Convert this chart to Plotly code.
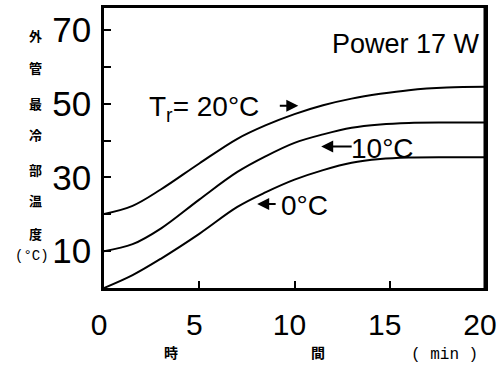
import plotly.graph_objects as go

# data (time in min, temperature in °C)
time_min = [0, 1.5, 3, 5, 7, 8.5, 10, 11.5, 13, 14.5, 16, 18, 20]
temp_tr20 = [20.1, 22.3, 26.8, 33.8, 40.5, 44.2, 47.2, 49.6, 51.4, 52.7, 53.7, 54.4, 54.6]
temp_tr10 = [10.0, 11.9, 16.2, 24.0, 31.5, 35.8, 39.4, 41.7, 43.5, 44.4, 44.8, 44.9, 44.9]
temp_tr0 = [0.0, 3.5, 8.0, 14.7, 22.0, 26.0, 29.4, 32.0, 34.0, 35.0, 35.4, 35.5, 35.5]
series = [temp_tr20, temp_tr10, temp_tr0]

x_ticks = [0, 5, 10, 15, 20]
y_ticks = [10, 30, 50, 70]
y_minor = [20, 40, 60]
y_title_chars = ["外", "管", "最", "冷", "部", "温", "度"]
x_title_chars = ["時", "間"]

SANS = "Liberation Sans, Arial, sans-serif"
CJK = "Noto Sans CJK JP"
MONO = "Liberation Mono, monospace"

fig = go.Figure()
for s in series:
    fig.add_trace(go.Scatter(x=time_min, y=s, mode="lines",
                             line=dict(color="black", width=2, shape="spline", smoothing=1.0),
                             showlegend=False, hoverinfo="skip"))

fig.update_layout(
    width=502, height=369,
    margin=dict(l=104, r=10, t=5, b=81),
    paper_bgcolor="white", plot_bgcolor="white",
    xaxis=dict(range=[0, 20], tickvals=x_ticks, ticktext=[str(v) for v in x_ticks],
               showgrid=False, zeroline=False, showline=True, mirror=True,
               linecolor="black", linewidth=2.5, ticks="inside", ticklen=7,
               tickwidth=2, tickcolor="black", ticklabelstandoff=8,
               ticklabelshift=-5, ticklabeloverflow="allow",
               tickfont=dict(family=SANS, size=30, color="black")),
    yaxis=dict(range=[0, 76], tickvals=y_ticks, ticktext=[str(v) for v in y_ticks],
               showgrid=False, zeroline=False, showline=True, mirror=True,
               linecolor="black", linewidth=2.5, ticks="inside", ticklen=7,
               tickwidth=2, tickcolor="black", ticklabelstandoff=3,
               tickfont=dict(family=SANS, size=35, color="black"),
               minor=dict(tickvals=y_minor, ticks="inside", ticklen=7,
                          tickwidth=2, tickcolor="black")),
)

# right edge of the frame, drawn explicitly
fig.add_shape(type="line", xref="paper", yref="paper", x0=1, x1=1, y0=0, y1=1,
              line=dict(color="black", width=3), layer="above")

# vertical y-axis title (one character per line)
y_pos_px = [33, 65, 102, 133, 168, 200, 233]
for ch, py in zip(y_title_chars, y_pos_px):
    fig.add_annotation(text=ch, xref="paper", yref="paper", x=0, xshift=-69,
                       y=(288 - py) / 283, xanchor="center", yanchor="middle",
                       showarrow=False,
                       font=dict(family=CJK, size=13, color="black", weight="bold"))
fig.add_annotation(text="(°C)", xref="paper", yref="paper", x=0, xshift=-72,
                   y=(288 - 256) / 283, xanchor="center", yanchor="middle",
                   showarrow=False, font=dict(family=MONO, size=14, color="black"))

# x-axis title
for ch, px in zip(x_title_chars, [172, 322]):
    fig.add_annotation(text=ch, xref="paper", yref="paper", x=(px - 104) / 388,
                       y=0, yshift=-64, xanchor="center", yanchor="middle",
                       showarrow=False,
                       font=dict(family=CJK, size=14, color="black", weight="bold"))
fig.add_annotation(text="( min )", xref="paper", yref="paper", x=(451 - 104) / 388,
                   y=0, yshift=-67, xanchor="center", yanchor="middle",
                   showarrow=False, font=dict(family=MONO, size=16, color="black"))

# in-plot labels
fig.add_annotation(text="Power 17 W", x=19.85, y=66.1, xanchor="right", showarrow=False,
                   font=dict(family=SANS, size=27, color="black"))
fig.add_annotation(text="T<sub>r</sub>= 20°C", x=5.26, y=48.7, showarrow=False,
                   font=dict(family=SANS, size=28, color="black"))
fig.add_annotation(text="10°C", x=14.6, y=37.8, showarrow=False,
                   font=dict(family=SANS, size=28, color="black"))
fig.add_annotation(text="0°C", x=10.5, y=22.3, showarrow=False,
                   font=dict(family=SANS, size=28, color="black"))

# arrows
for hx, hy, ax in [(10.2, 49.5, -20), (11.4, 38.4, 32), (8.04, 22.8, 20)]:
    fig.add_annotation(text="", x=hx, y=hy, ax=ax, ay=0, showarrow=True,
                       arrowhead=2, arrowsize=1.2, arrowwidth=2, arrowcolor="black")

fig.write_html("out.html")
